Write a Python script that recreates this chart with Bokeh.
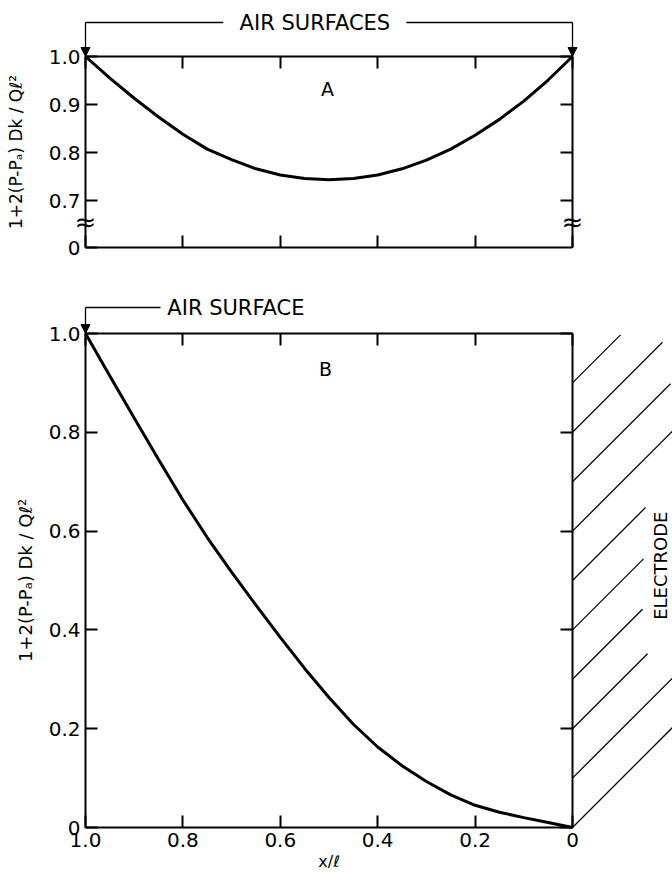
import math
from bokeh.plotting import figure
from bokeh.models import (Range1d, FixedTicker, LinearAxis, Label, Arrow,
                          NormalHead)
from bokeh.layouts import column
from bokeh.embed import file_html
from bokeh.resources import INLINE

# ---------------- data ----------------
x_pos = [1.0, 0.95, 0.9, 0.85, 0.8, 0.75, 0.7, 0.65, 0.6, 0.55, 0.5,
         0.45, 0.4, 0.35, 0.3, 0.25, 0.2, 0.15, 0.1, 0.05, 0.0]
# panel A : two air surfaces
y_a = [1.000, 0.955, 0.913, 0.874, 0.838, 0.807, 0.785, 0.766, 0.753, 0.746, 0.743,
       0.746, 0.753, 0.766, 0.784, 0.807, 0.836, 0.869, 0.907, 0.951, 1.000]
# panel B : one air surface, one electrode
y_b = [1.000, 0.914, 0.829, 0.745, 0.663, 0.587, 0.517, 0.450, 0.385, 0.322, 0.263,
       0.209, 0.163, 0.125, 0.093, 0.066, 0.045, 0.031, 0.020, 0.010, 0.000]

x_ticks = [1.0, 0.8, 0.6, 0.4, 0.2, 0.0]
x_tick_labels = ["1.0", "0.8", "0.6", "0.4", "0.2", "0"]
ya_ticks = [0.7, 0.8, 0.9, 1.0]
ya_tick_labels = ["0.7", "0.8", "0.9", "1.0"]
yb_ticks = [0.0, 0.2, 0.4, 0.6, 0.8, 1.0]
yb_tick_labels = ["0", "0.2", "0.4", "0.6", "0.8", "1.0"]
hatch_levels = [0.0, 0.1, 0.2, 0.3, 0.4, 0.5, 0.6, 0.7, 0.8, 0.9]

# ---------------- layout constants (pixels) ----------------
FONT = "DejaVu Sans"
W = 672
PXX = 487.0          # px per unit of x/l
LEFT = 85            # px of x = 1.0
HA, PXA, TOPA = 270, 480.0, 56     # panel A canvas height, px per unit, px of y = 1
HB, PXB, TOPB = 604, 494.0, 63     # panel B
A_BOTTOM = 0.602     # axis break: value at the bottom edge of panel A (labelled "0")
YLABEL = "1+2(P-P\u2090) Dk / Q\u2113\u00b2"

XR = Range1d(1.0 + LEFT / PXX, 1.0 - (W - LEFT) / PXX)


def make_fig(h, pxy, top):
    yr = Range1d(1.0 - (h - top) / pxy, 1.0 + top / pxy)
    p = figure(frame_width=W, frame_height=h, x_range=XR, y_range=yr,
               x_axis_location=None, y_axis_location=None,
               output_backend="svg", toolbar_location=None,
               min_border_left=0, min_border_right=0,
               min_border_top=0, min_border_bottom=0)
    p.grid.visible = False
    p.outline_line_color = None
    p.background_fill_color = "white"
    p.border_fill_color = "white"
    return p


def add_axis(p, side, loc, bounds, ticks, labels=None):
    ax = LinearAxis(fixed_location=loc, bounds=bounds, ticker=FixedTicker(ticks=ticks),
                    axis_line_width=2, axis_line_color="black",
                    major_tick_line_width=2, major_tick_in=12, major_tick_out=0,
                    minor_tick_line_color=None,
                    major_label_text_font=FONT, major_label_text_font_size="20px",
                    major_label_text_color="black",
                    axis_label_text_font=FONT, axis_label_text_font_style="normal",
                    axis_label_text_color="black", axis_label_text_font_size="17px")
    if labels is None:
        ax.major_label_text_color = None
    else:
        ax.major_label_overrides = {v: s for v, s in zip(ticks, labels)}
    p.add_layout(ax, side)
    return ax


def hline(p, x0, x1, y):
    p.add_layout(Arrow(x_start=x0, y_start=y, x_end=x1, y_end=y, end=None,
                       line_width=1.3, line_color="black"))


def down_arrow(p, x, y0, y1):
    p.add_layout(Arrow(x_start=x, y_start=y0, x_end=x, y_end=y1,
                       end=NormalHead(size=9, fill_color="black", line_color="black",
                                      line_width=1),
                       line_width=1.3, line_color="black"))


def text(p, x, y, s, size="21px", align="center", angle=0.0):
    p.add_layout(Label(x=x, y=y, text=s, text_align=align, text_baseline="middle",
                       text_font=FONT, text_font_size=size, angle=angle,
                       text_color="black"))


# ---------------- panel A ----------------
pa = make_fig(HA, PXA, TOPA)
pa.line(x_pos, y_a, line_width=3, line_color="black")
la = add_axis(pa, "left", 1.0, (A_BOTTOM, 1.0), [A_BOTTOM] + ya_ticks, ["0"] + ya_tick_labels)
la.major_label_standoff = 5
la.axis_label = YLABEL
la.axis_label_standoff = 20
add_axis(pa, "below", A_BOTTOM, (0.0, 1.0), x_ticks)
add_axis(pa, "above", 1.0, (0.0, 1.0), x_ticks)
add_axis(pa, "right", 0.0, (A_BOTTOM, 1.0), ya_ticks)

ya_top = 1.0 + 34 / PXA
hline(pa, 1.0, 0.717, ya_top)
hline(pa, 0.341, 0.0, ya_top)
down_arrow(pa, 1.0, ya_top, 1.0)
down_arrow(pa, 0.0, ya_top, 1.0)
text(pa, 0.529, ya_top, "AIR SURFACES")
text(pa, 0.503, 0.933, "A", size="19px")
for xb in (1.0, 0.0):
    text(pa, xb, 0.655, "\u2248", size="26px")

# ---------------- panel B ----------------
pb = make_fig(HB, PXB, TOPB)
pb.line(x_pos, y_b, line_width=3, line_color="black")
lb = add_axis(pb, "left", 1.0, (0.0, 1.0), yb_ticks, yb_tick_labels)
lb.major_label_standoff = 5
lb.axis_label = YLABEL
lb.axis_label_text_font_size = "18px"
lb.axis_label_standoff = 10
bb = add_axis(pb, "below", 0.0, (0.0, 1.0), x_ticks, x_tick_labels)
bb.major_label_standoff = 5
bb.axis_label = "x/\u2113"
bb.axis_label_text_font_size = "16px"
bb.axis_label_standoff = 2
add_axis(pb, "above", 1.0, (0.0, 1.0), x_ticks)
add_axis(pb, "right", 0.0, (0.0, 1.0), yb_ticks)

yb_top = 1.0 + 26 / PXB
hline(pb, 1.0, 0.846, yb_top)
down_arrow(pb, 1.0, yb_top, 1.0)
text(pb, 0.832, yb_top, "AIR SURFACE", align="left")
text(pb, 0.507, 0.929, "B", size="19px")

# electrode hatching: 45-degree strokes to the right of the x = 0 wall
hatch_len_px = [100, 100, 75, 70, 71, 73, 100, 98, 90, 48]
pb.segment(x0=[0.0] * len(hatch_levels), y0=hatch_levels,
           x1=[-L / PXX for L in hatch_len_px],
           y1=[h + L / PXB for h, L in zip(hatch_levels, hatch_len_px)],
           line_width=1.3, line_color="black")
text(pb, -88 / PXX, 0.53, "ELECTRODE", size="18px", angle=math.pi / 2)

layout = column(pa, pb, spacing=0)
open("out.html", "w").write(file_html(layout, INLINE))
